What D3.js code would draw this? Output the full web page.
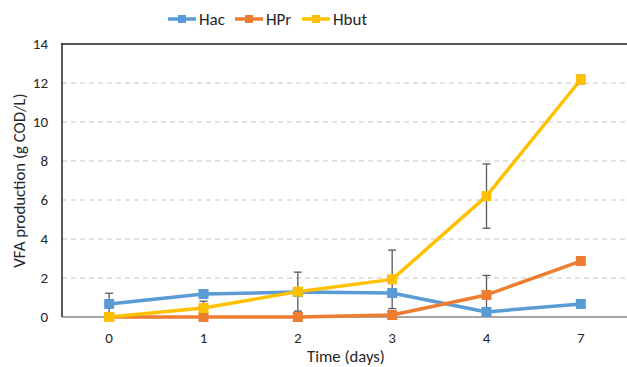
<!DOCTYPE html>
<html>
<head>
<meta charset="utf-8">
<script src="https://cdn.jsdelivr.net/npm/d3@7"></script>
<style>
  html, body { margin: 0; padding: 0; background: #fff; }
  svg { display: block; font-family: Carlito, "Open Sans", "Liberation Sans", sans-serif; }
</style>
</head>
<body>
<svg id="chart" width="627" height="367"></svg>
<script>
// ---------- data ----------
const days = ["0", "1", "2", "3", "4", "7"];
const hac = [0.67, 1.18, 1.28, 1.23, 0.26, 0.67];
const hacErr = [0.55, 0.2, 0, 0, 0, 0];
const hpr = [0, 0, 0, 0.1, 1.13, 2.87];
const hprErr = [0, 0, 0, 0, 1.0, 0];
const hbut = [0, 0.46, 1.3, 1.93, 6.2, 12.18];
const hbutErr = [0, 0.35, 1.0, 1.5, 1.65, 0.22];
const yTicks = [0, 2, 4, 6, 8, 10, 12, 14];

const series = [
  { name: "Hac", values: hac, err: hacErr, color: "#5B9BD5" },
  { name: "HPr", values: hpr, err: hprErr, color: "#ED7D31" },
  { name: "Hbut", values: hbut, err: hbutErr, color: "#FFC000" },
];

// ---------- layout ----------
const svg = d3.select("#chart");
const plotL = 62, plotR = 628, plotT = 44, plotB = 317;

const x = d3.scaleBand().domain(days).range([plotL, plotR]).padding(0);
const y = d3.scaleLinear().domain([0, 14]).range([plotB, plotT]);
const cx = (d) => x(d) + x.bandwidth() / 2;

// gridlines
svg.append("g")
  .selectAll("line")
  .data(yTicks.filter((t) => t > 0 && t < 14))
  .join("line")
  .attr("x1", plotL).attr("x2", 627)
  .attr("y1", (d) => y(d)).attr("y2", (d) => y(d))
  .attr("stroke", "#D9D9D9")
  .attr("stroke-width", 1.3)
  .attr("stroke-dasharray", "5,4");

// top border, left axis, baseline
svg.append("line")
  .attr("x1", plotL).attr("x2", 627).attr("y1", y(14)).attr("y2", y(14))
  .attr("stroke", "#595959").attr("stroke-width", 2);
svg.append("line")
  .attr("x1", plotL).attr("x2", 627).attr("y1", y(0)).attr("y2", y(0))
  .attr("stroke", "#A6A6A6").attr("stroke-width", 2);
svg.append("line")
  .attr("x1", plotL).attr("x2", plotL).attr("y1", y(14) - 1).attr("y2", y(0))
  .attr("stroke", "#000").attr("stroke-width", 1.3);

// y tick labels
svg.append("g")
  .selectAll("text")
  .data(yTicks)
  .join("text")
  .attr("x", 48).attr("y", (d) => y(d) + 5)
  .attr("text-anchor", "end")
  .attr("font-size", 15)
  .attr("fill", "#262626")
  .text((d) => d);

// x tick labels
svg.append("g")
  .selectAll("text")
  .data(days)
  .join("text")
  .attr("x", (d) => cx(d)).attr("y", 343)
  .attr("text-anchor", "middle")
  .attr("font-size", 15)
  .attr("fill", "#262626")
  .text((d) => d);

// axis titles
svg.append("text")
  .attr("x", 346).attr("y", 362)
  .attr("text-anchor", "middle")
  .attr("font-size", 16.7)
  .attr("fill", "#262626")
  .text("Time (days)");
svg.append("text")
  .attr("transform", `translate(25,${(plotT + plotB) / 2}) rotate(-90)`)
  .attr("text-anchor", "middle")
  .attr("font-size", 16.8)
  .attr("fill", "#262626")
  .text("VFA production (g COD/L)");

// series lines
const line = d3.line().x((d, i) => cx(days[i])).y((d) => y(d));
const lineLayer = svg.append("g");
const errLayer = svg.append("g");
const markLayer = svg.append("g");

series.forEach((s) => {
  lineLayer.append("path")
    .datum(s.values)
    .attr("d", line)
    .attr("fill", "none")
    .attr("stroke", s.color)
    .attr("stroke-width", 3.5)
    .attr("stroke-linejoin", "round");

  const errs = s.values.map((v, i) => ({ day: days[i], v, e: s.err[i] })).filter((d) => d.e > 0);
  const g = errLayer.selectAll(null).data(errs).join("g").attr("stroke", "#595959").attr("stroke-width", 1.3);
  g.append("line")
    .attr("x1", (d) => cx(d.day)).attr("x2", (d) => cx(d.day))
    .attr("y1", (d) => y(d.v + d.e)).attr("y2", (d) => y(Math.max(0, d.v - d.e)));
  g.append("line")
    .attr("x1", (d) => cx(d.day) - 4).attr("x2", (d) => cx(d.day) + 4)
    .attr("y1", (d) => y(d.v + d.e)).attr("y2", (d) => y(d.v + d.e));
  g.append("line")
    .attr("x1", (d) => cx(d.day) - 4).attr("x2", (d) => cx(d.day) + 4)
    .attr("y1", (d) => y(Math.max(0, d.v - d.e))).attr("y2", (d) => y(Math.max(0, d.v - d.e)));
});

series.forEach((s) => {
  markLayer.append("g")
    .selectAll("rect")
    .data(s.values)
    .join("rect")
    .attr("x", (d, i) => cx(days[i]) - 5)
    .attr("y", (d) => y(d) - 5)
    .attr("width", 10).attr("height", 10)
    .attr("fill", s.color);
});

// legend
const legendX = [168, 235, 302];
const legend = svg.append("g")
  .selectAll("g")
  .data(series)
  .join("g")
  .attr("transform", (d, i) => `translate(${legendX[i]},19)`);
legend.append("line")
  .attr("x1", 0).attr("x2", 28).attr("y1", 0).attr("y2", 0)
  .attr("stroke", (d) => d.color).attr("stroke-width", 3.5);
legend.append("rect")
  .attr("x", 10).attr("y", -4).attr("width", 8).attr("height", 8)
  .attr("fill", (d) => d.color);
legend.append("text")
  .attr("x", 31).attr("y", 6)
  .attr("font-size", 17)
  .attr("fill", "#262626")
  .text((d) => d.name);
</script>
</body>
</html>
